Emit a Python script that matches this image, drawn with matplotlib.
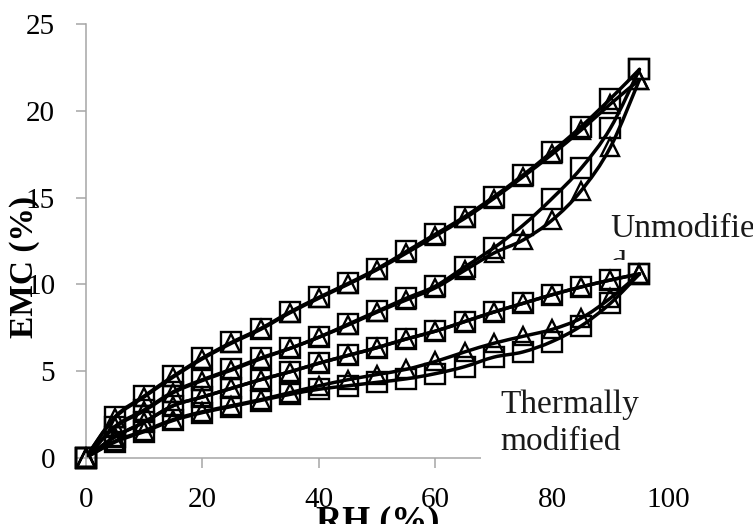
import matplotlib
matplotlib.use("Agg")
import matplotlib.pyplot as plt
import numpy as np
from matplotlib.path import Path
from matplotlib.patches import PathPatch, Rectangle
from matplotlib.transforms import Bbox, TransformedBbox

# Relative humidity steps (%)
rh = [0, 5, 10, 15, 20, 25, 30, 35, 40, 45, 50, 55, 60, 65, 70, 75, 80, 85, 90, 95]

# Equilibrium moisture content (%) - unmodified wood
unmod_des_sq = [0, 2.35, 3.55, 4.7, 5.75, 6.65, 7.45, 8.4, 9.25, 10.05, 10.9, 11.9, 12.9, 13.9, 15.05, 16.3, 17.65, 19.1, 20.7, 22.4]
unmod_des_tri = [0, 2.3, 3.5, 4.65, 5.7, 6.6, 7.4, 8.35, 9.2, 10.0, 10.85, 11.8, 12.8, 13.8, 14.95, 16.2, 17.5, 18.9, 20.4, 21.8]
unmod_ads_sq = [0, 1.8, 2.75, 3.8, 4.5, 5.1, 5.75, 6.3, 6.95, 7.7, 8.45, 9.2, 9.9, 11.0, 12.1, 13.4, 14.95, 16.7, 19.0, 22.4]
unmod_ads_tri = [0, 1.75, 2.7, 3.75, 4.45, 5.05, 5.7, 6.3, 6.95, 7.65, 8.4, 9.1, 9.8, 10.8, 11.8, 12.55, 13.7, 15.4, 17.9, 21.8]

# Equilibrium moisture content (%) - thermally modified wood
therm_des_sq = [0, 1.2, 2.05, 3.0, 3.5, 4.0, 4.5, 4.95, 5.45, 5.9, 6.35, 6.85, 7.3, 7.85, 8.4, 8.9, 9.4, 9.85, 10.25, 10.6]
therm_des_tri = [0, 1.2, 2.05, 3.0, 3.5, 4.0, 4.5, 4.95, 5.45, 5.9, 6.35, 6.85, 7.3, 7.85, 8.4, 8.9, 9.4, 9.85, 10.25, 10.6]
therm_ads_sq = [0, 0.9, 1.5, 2.15, 2.6, 2.95, 3.3, 3.65, 3.95, 4.15, 4.35, 4.55, 4.85, 5.25, 5.8, 6.1, 6.7, 7.6, 8.9, 10.6]
therm_ads_tri = [0, 0.95, 1.55, 2.2, 2.65, 3.0, 3.35, 3.75, 4.15, 4.5, 4.8, 5.1, 5.55, 6.1, 6.6, 7.0, 7.4, 8.05, 9.2, 10.6]

x_ticks = [0, 20, 40, 60, 80, 100]
y_ticks = [0, 5, 10, 15, 20, 25]

SERIF = ["Liberation Serif", "DejaVu Serif"]


def smooth_path(x, y):
    """Bezier path through the points with Catmull-Rom style tangents."""
    p = np.column_stack([x, y]).astype(float)
    n = len(p)
    verts = [p[0]]
    codes = [Path.MOVETO]
    for i in range(n - 1):
        prev = p[i - 1] if i > 0 else p[i]
        nxt = p[i + 2] if i + 2 < n else p[i + 1]
        c1 = p[i] + (p[i + 1] - prev) / 6.0
        c2 = p[i + 1] - (nxt - p[i]) / 6.0
        verts += [c1, c2, p[i + 1]]
        codes += [Path.CURVE4] * 3
    return Path(verts, codes)


fig = plt.figure(figsize=(7.53, 5.24), dpi=100)
ax = fig.add_axes([0.1138, 0.1265, 0.7741, 0.8271])

series = [
    (unmod_des_sq, "s"), (unmod_des_tri, "^"),
    (unmod_ads_sq, "s"), (unmod_ads_tri, "^"),
    (therm_des_sq, "s"), (therm_des_tri, "^"),
    (therm_ads_sq, "s"), (therm_ads_tri, "^"),
]

for values, marker in series:
    ax.add_patch(PathPatch(smooth_path(rh, values), facecolor="none",
                           edgecolor="black", lw=2.5, zorder=2,
                           capstyle="round", joinstyle="round"))
    ax.plot(rh, values, linestyle="none", marker=marker,
            markersize=14 if marker == "s" else 13,
            markerfacecolor="none", markeredgecolor="black",
            markeredgewidth=1.7, zorder=3, clip_on=False)

ax.set_xlim(0, 100)
ax.set_ylim(0, 25)
ax.set_xticks(x_ticks)
ax.set_yticks(y_ticks)

for side in ("top", "right"):
    ax.spines[side].set_visible(False)
for side in ("left", "bottom"):
    ax.spines[side].set_color("#a6a6a6")
    ax.spines[side].set_linewidth(1.1)

ax.tick_params(axis="both", direction="out", length=7, width=1.1,
               color="#a6a6a6", labelsize=21, labelcolor="black")
ax.tick_params(axis="x", pad=14)
ax.tick_params(axis="y", pad=15)
for lab in ax.get_xticklabels() + ax.get_yticklabels():
    lab.set_fontfamily(SERIF)

# Axis titles
fig.text(25 / 753, 1 - 267 / 524, "EMC (%)", rotation=90, ha="center",
         va="center", fontsize=24, fontweight="bold", family=SERIF)
fig.text(378 / 753, 1 - 522 / 524, "RH (%)", ha="center", va="center",
         fontsize=26, fontweight="bold", family=SERIF)

# Text box for the thermally modified curves
fig.patches.append(Rectangle((481 / 753, 1 - 476 / 524), 230 / 753, 100 / 524,
                             transform=fig.transFigure, facecolor="white",
                             edgecolor="none", zorder=5))
fig.text(500 / 753, 1 - 413 / 524, "Thermally", ha="left", va="baseline",
         fontsize=24, family=SERIF, color="#1a1a1a", zorder=6)
fig.text(500 / 753, 1 - 450 / 524, "modified", ha="left", va="baseline",
         fontsize=24, family=SERIF, color="#1a1a1a", zorder=6)

# Text box for the unmodified curves (second line is cut by the box edge)
fig.text(610 / 753, 1 - 237 / 524, "Unmodifie", ha="left", va="baseline",
         fontsize=24, family=SERIF, color="#1a1a1a", zorder=6)
d_txt = fig.text(610 / 753, 1 - 274 / 524, "d", ha="left", va="baseline",
                 fontsize=24, family=SERIF, color="#1a1a1a", zorder=6)
d_txt.set_clip_box(TransformedBbox(Bbox([[600 / 753, 1 - 260 / 524],
                                         [1.0, 1 - 200 / 524]]),
                                   fig.transFigure))
d_txt.set_clip_on(True)

fig.savefig("out.png", dpi=100)
